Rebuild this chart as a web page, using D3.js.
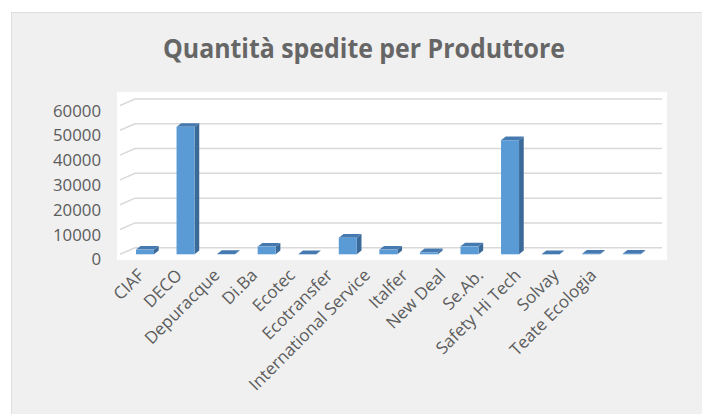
<!DOCTYPE html>
<html><head><meta charset="utf-8">
<script src="https://cdn.jsdelivr.net/npm/d3@7"></script>
<style>body{margin:0;background:#fff;}svg{display:block;}</style>
</head><body>
<svg id="c" width="702" height="414"></svg>
<script>
const categories = ["CIAF","DECO","Depuracque","Di.Ba","Ecotec","Ecotransfer","International Service","Italfer","New Deal","Se.Ab.","Safety Hi Tech","Solvay","Teate Ecologia"];
const values = [1900, 51400, 150, 3100, 50, 6700, 1900, 800, 3200, 46000, 50, 250, 250];
const yTicks = [0, 10000, 20000, 30000, 40000, 50000, 60000];
const title = "Quantità spedite per Produttore";

const svg = d3.select("#c");
const font = "'Open Sans', 'Liberation Sans', sans-serif";
const gray = "#5c5c5c";

svg.append("rect").attr("x", 11.5).attr("y", 12.5).attr("width", 702).attr("height", 414)
  .attr("fill", "#f0f0f0").attr("stroke", "#dedede");
svg.append("rect").attr("x", 117).attr("y", 92).attr("width", 550).attr("height", 168).attr("fill", "#fff");

const yF = d3.scaleLinear().domain([0, 60000]).range([254.3, 105.5]);
const yB = d3.scaleLinear().domain([0, 60000]).range([247.7, 99]);
const x = d3.scaleBand().domain(categories).range([124.7, 652]).paddingInner(0.556).paddingOuter(0.278);
const xl = d3.scalePoint().domain(categories).range([141, 593]);

// gridlines
const g = svg.append("g").attr("stroke", "#d9d9d9").attr("stroke-width", 1.5).attr("fill", "none");
yTicks.forEach(t => {
  g.append("path").attr("d", `M120,${yF(t)}L135,${yB(t)}L662,${yB(t)}`);
});

// y labels
svg.append("g").selectAll("text").data(yTicks).join("text")
  .attr("x", 101).attr("y", d => yF(d) + 5).attr("dy", "0.36em")
  .attr("text-anchor", "end").attr("font-family", font).attr("font-size", 16.8).attr("fill", gray)
  .text(d => d);

// bars
const dx = 4.7, dy = -3.7;
const bars = svg.append("g");
categories.forEach((c, i) => {
  const v = values[i];
  const x0 = x(c), x1 = x0 + x.bandwidth();
  const yt = yF(v), yb = yF(0);
  bars.append("path").attr("fill", "#3b6a99")
    .attr("d", `M${x1},${yb}L${x1+dx},${yb+dy}L${x1+dx},${yt+dy}L${x1},${yt}Z`);
  bars.append("path").attr("fill", "#4679b0")
    .attr("d", `M${x0},${yt}L${x1},${yt}L${x1+dx},${yt+dy}L${x0+dx},${yt+dy}Z`);
  bars.append("rect").attr("fill", "#5b9bd5").attr("x", x0).attr("y", yt)
    .attr("width", x.bandwidth()).attr("height", Math.max(0, yb - yt));
});

// x labels
svg.append("g").selectAll("text").data(categories).join("text")
  .attr("transform", d => `translate(${xl(d)},272) rotate(-45)`)
  .attr("text-anchor", "end").attr("dy", "0.36em")
  .attr("font-family", font).attr("font-size", 17).attr("fill", gray)
  .text(d => d);

// title
svg.append("text").attr("x", 364).attr("y", 58.3).attr("text-anchor", "middle")
  .attr("font-family", font).attr("font-weight", "bold").attr("font-size", 26)
  .attr("textLength", 402).attr("lengthAdjust", "spacingAndGlyphs")
  .attr("fill", "#666").text(title);
</script>
</body></html>
